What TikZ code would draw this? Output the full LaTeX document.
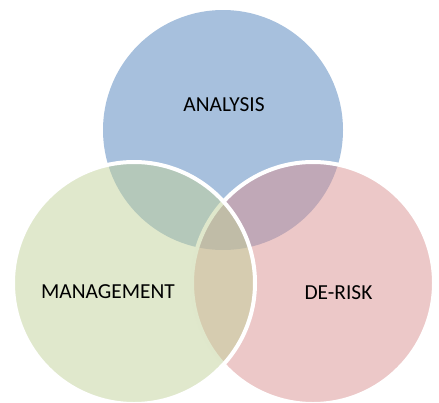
\documentclass[tikz,border=0pt]{standalone}
\usepackage{fontspec}
\setmainfont{Carlito}
\definecolor{vblue}{RGB}{79,129,187}
\definecolor{vpink}{RGB}{217,145,145}
\definecolor{vgreen}{RGB}{193,209,153}
\begin{document}
\begin{tikzpicture}[x=1pt,y=-1pt,
  venn/.style={circle, inner sep=0pt, outer sep=0pt, minimum size=242pt, fill opacity=0.5},
  vborder/.style={draw=white, line width=4pt, draw opacity=1},
  lbl/.style={font=\fontsize{21.4}{25}\selectfont, text=black, inner sep=0pt}]
\useasboundingbox (0,0) rectangle (439,402);
\clip (0,0) rectangle (439,402);
\node[venn, fill=vblue, minimum size=240pt] (analysis) at (223,130) {};
\node[venn, fill=vpink, vborder] (derisk) at (313,283) {};
\node[venn, fill=vgreen, vborder] (management) at (134,283) {};
\node[lbl] (tA) at (224,105) {ANALYSIS};
\node[lbl] (tM) at (108,292) {MANAGEMENT};
\node[lbl] (tD) at (338.5,293) {DE-RISK};
\end{tikzpicture}
\end{document}
